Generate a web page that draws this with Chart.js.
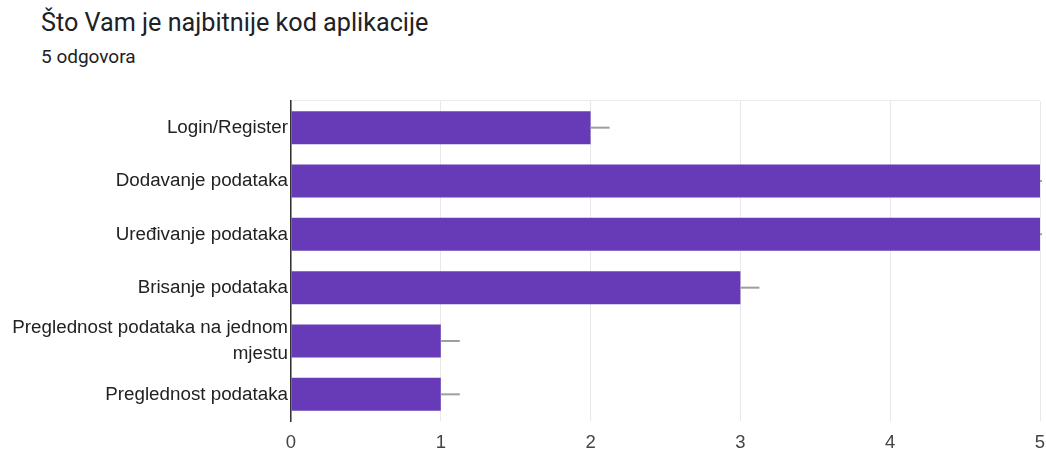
<!DOCTYPE html>
<html>
<head>
<meta charset="utf-8">
<script src="https://cdn.jsdelivr.net/npm/chart.js@4"></script>
<style>
  body { margin: 0; background: #fff; }
  #wrap { position: relative; width: 1046px; height: 450px; }
  .title { position: absolute; left: 41px; top: 8px; font-family: Roboto, sans-serif; font-size: 25.2px; color: #202124; }
  .sub { position: absolute; left: 41px; top: 45px; font-family: Roboto, sans-serif; font-size: 19px; color: #202124; }
  canvas { position: absolute; left: 0; top: 0; }
</style>
</head>
<body>
<div id="wrap">
  <div class="title">Što Vam je najbitnije kod aplikacije</div>
  <div class="sub">5 odgovora</div>
  <canvas id="chart" width="1046" height="450"></canvas>
</div>
<script>
const categories = [
  'Login/Register',
  'Dodavanje podataka',
  'Uređivanje podataka',
  'Brisanje podataka',
  ['Preglednost podataka na jednom', 'mjestu'],
  'Preglednost podataka'
];
const values = [2, 5, 5, 3, 1, 1];
const tickValues = [0, 1, 2, 3, 4, 5];

// mala siva crtica iza svakog stupca
const whiskers = {
  id: 'whiskers',
  afterDatasetsDraw(chart) {
    const c = chart.ctx;
    const area = chart.chartArea;
    c.save();
    c.beginPath();
    c.rect(area.left, area.top, area.right - area.left + 2, area.bottom - area.top);
    c.clip();
    c.strokeStyle = '#9e9e9e';
    c.lineWidth = 2;
    chart.getDatasetMeta(0).data.forEach(bar => {
      c.beginPath();
      c.moveTo(bar.x, bar.y);
      c.lineTo(bar.x + 19, bar.y);
      c.stroke();
    });
    c.restore();
  }
};

const ctx = document.getElementById('chart').getContext('2d');
new Chart(ctx, {
  type: 'bar',
  data: {
    labels: categories,
    datasets: [{
      data: values,
      backgroundColor: '#673ab7',
      barPercentage: 0.62,
      categoryPercentage: 1,
    }],
  },
  options: {
    indexAxis: 'y',
    responsive: false,
    animation: false,
    layout: { padding: { top: 101, right: 6, left: 0, bottom: 0 } },
    plugins: {
      legend: { display: false },
      tooltip: { enabled: false },
    },
    scales: {
      x: {
        min: 0,
        max: 5,
        afterBuildTicks(scale) { scale.ticks = tickValues.map(v => ({ value: v })); },
        grid: { color: '#e8e8e8', drawTicks: false },
        border: { display: false },
        ticks: { color: '#444', font: { family: 'Liberation Sans, Arial', size: 18.5 }, padding: 11 },
        afterFit(scale) {
          scale.height = 29;
          scale.paddingRight = 0;
          scale.paddingLeft = 0;
        },
      },
      y: {
        grid: {
          drawTicks: false,
          color: (c) => (c.index === 0 || c.index === categories.length) ? '#ebebeb' : 'rgba(0,0,0,0)',
        },
        border: { color: '#333', width: 1.5 },
        ticks: {
          autoSkip: false,
          color: '#222',
          font: { family: 'Liberation Sans, Arial', size: 18.8, lineHeight: 1.38 },
          padding: 3,
        },
        afterFit(scale) { scale.width = 291; },
      },
    },
  },
  plugins: [whiskers],
});
</script>
</body>
</html>
